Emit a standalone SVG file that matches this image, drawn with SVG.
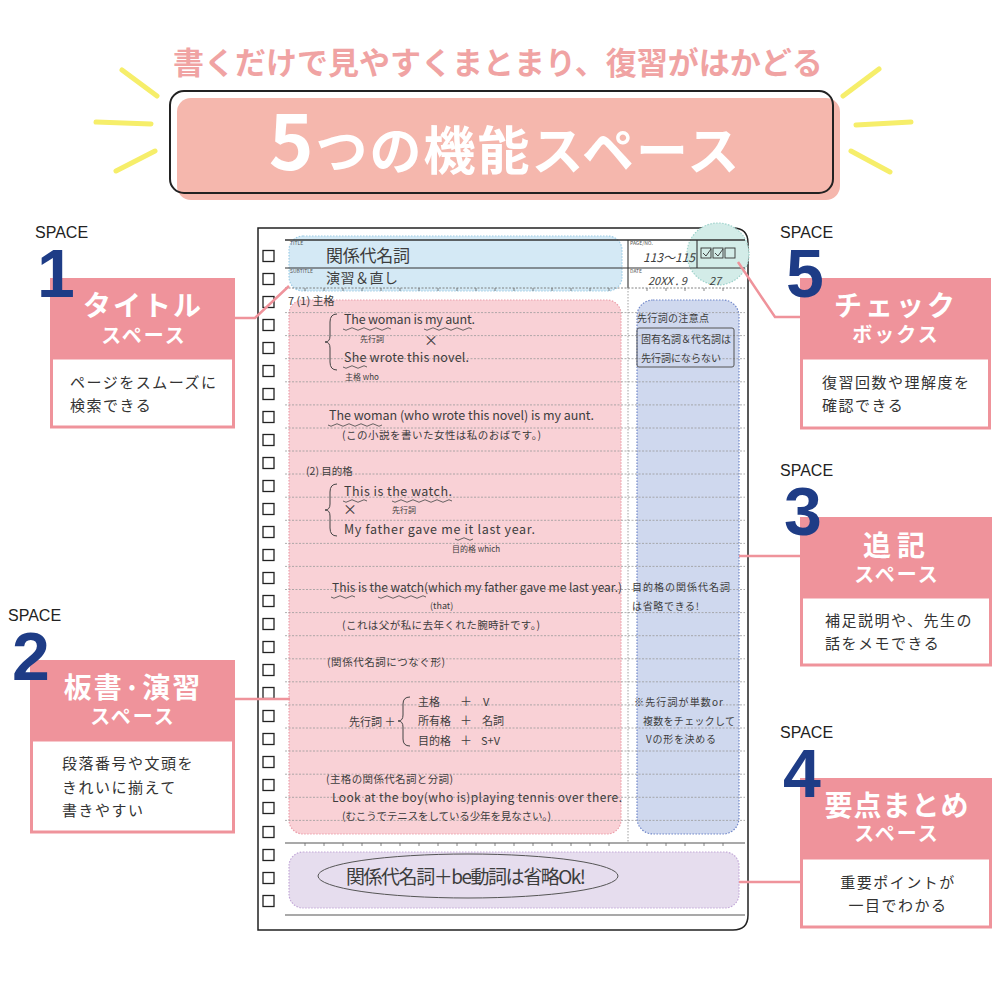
<svg xmlns="http://www.w3.org/2000/svg" width="1000" height="1000" viewBox="0 0 1000 1000">
<defs>
<style>
.jp{font-family:"Noto Sans CJK JP","Noto Sans",sans-serif}
.hw{font-family:"Noto Sans CJK JP","Noto Sans",sans-serif;fill:#3d3d3d}
.sp{font-family:"Liberation Sans",Arial,sans-serif;font-size:16px;fill:#222}
.num{font-family:"Liberation Sans",Arial,sans-serif;font-weight:bold;font-size:68px;fill:#1e3c86}
.hd{font-family:"Noto Sans CJK JP",sans-serif;font-weight:bold;fill:#fff;text-anchor:middle}
.desc{font-family:"Noto Sans CJK JP",sans-serif;font-size:15px;fill:#333;letter-spacing:1.5px}
.pk{fill:#ef939b}
.wb{fill:#fff;stroke:#ef939b;stroke-width:3}
.con{fill:none;stroke:#ef939b;stroke-width:2.5}
.ray{stroke:#f6ee6a;stroke-width:5;stroke-linecap:round}
.cb{fill:#fff;stroke:#222;stroke-width:1.3}
.rule{stroke:#9a9a9a;stroke-width:0.8;stroke-dasharray:2 1.5}
.wave{fill:none;stroke:#555;stroke-width:0.9}
.br{fill:none;stroke:#444;stroke-width:1}
</style>
</defs>
<rect width="1000" height="1000" fill="#fff"/>

<!-- Heading -->
<g id="heading">
<text x="498" y="74" class="jp" font-size="31" font-weight="bold" fill="#f0a3a3" text-anchor="middle">書くだけで見やすくまとまり、復習がはかどる</text>
<line class="ray" x1="122" y1="70" x2="157" y2="96"/>
<line class="ray" x1="96" y1="122" x2="151" y2="124"/>
<line class="ray" x1="116" y1="171" x2="155" y2="151"/>
<line class="ray" x1="843" y1="96" x2="879" y2="69"/>
<line class="ray" x1="856" y1="125" x2="911" y2="122"/>
<line class="ray" x1="851" y1="151" x2="890" y2="172"/>
<rect x="177" y="98" width="663" height="102" rx="14" fill="#f5b7ad"/>
<rect x="170" y="91" width="663" height="102" rx="14" fill="none" stroke="#222" stroke-width="2"/>
<text x="505" y="170" class="jp" font-weight="bold" fill="#fff" text-anchor="middle" letter-spacing="2"><tspan font-size="76">5</tspan><tspan font-size="52">つの機能スペース</tspan></text>
</g>

<!-- Notebook -->
<g id="notebook">
<path d="M258,228 H733 Q748,228 748,243 V915 Q748,930 733,930 H258 Z" fill="#fff" stroke="#222" stroke-width="1.5"/>
<!-- highlight areas -->
<rect x="289" y="236" width="333" height="55" rx="14" fill="#d4e9f5" stroke="#9fcde6" stroke-width="1.2" stroke-dasharray="1.5 1.5"/>
<circle cx="718" cy="254" r="31" fill="#d3ece8" stroke="#9fd3cc" stroke-width="1.2" stroke-dasharray="1.5 1.5"/>
<rect x="289" y="300" width="332" height="534" rx="14" fill="#f9d1d6" stroke="#ec9fab" stroke-width="1.2" stroke-dasharray="1.5 1.5"/>
<rect x="637" y="300" width="102" height="534" rx="16" fill="#cfd8ee" stroke="#6f86c9" stroke-width="1.2" stroke-dasharray="1.5 1.5"/>
<rect x="289" y="852" width="450" height="56" rx="14" fill="#e6ddee" stroke="#c3a9d8" stroke-width="1.2" stroke-dasharray="1.5 1.5"/>
<!-- header lines -->
<line x1="285" y1="240" x2="745" y2="240" stroke="#333" stroke-width="1.3"/>
<line x1="285" y1="268" x2="745" y2="268" stroke="#333" stroke-width="1.1"/>
<line x1="628" y1="240" x2="628" y2="288" stroke="#333" stroke-width="1.1"/>
<line x1="697" y1="240" x2="697" y2="268" stroke="#333" stroke-width="1.1"/>
<line x1="285" y1="288" x2="745" y2="288" stroke="#777" stroke-width="0.9" stroke-dasharray="2 1.5"/>
<line x1="628" y1="288" x2="628" y2="843" stroke="#888" stroke-width="0.8" stroke-dasharray="1.5 1.5"/>
<!-- ruled lines -->
<g id="rules">
<line class="rule" x1="285" y1="312.6" x2="745" y2="312.6"/>
<line class="rule" x1="285" y1="335.6" x2="745" y2="335.6"/>
<line class="rule" x1="285" y1="358.7" x2="745" y2="358.7"/>
<line class="rule" x1="285" y1="381.8" x2="745" y2="381.8"/>
<line class="rule" x1="285" y1="404.9" x2="745" y2="404.9"/>
<line class="rule" x1="285" y1="428" x2="745" y2="428"/>
<line class="rule" x1="285" y1="451" x2="745" y2="451"/>
<line class="rule" x1="285" y1="474" x2="745" y2="474"/>
<line class="rule" x1="285" y1="497.2" x2="745" y2="497.2"/>
<line class="rule" x1="285" y1="520.3" x2="745" y2="520.3"/>
<line class="rule" x1="285" y1="543.4" x2="745" y2="543.4"/>
<line class="rule" x1="285" y1="566.4" x2="745" y2="566.4"/>
<line class="rule" x1="285" y1="589.5" x2="745" y2="589.5"/>
<line class="rule" x1="285" y1="612.6" x2="745" y2="612.6"/>
<line class="rule" x1="285" y1="635.7" x2="745" y2="635.7"/>
<line class="rule" x1="285" y1="658.8" x2="745" y2="658.8"/>
<line class="rule" x1="285" y1="681.8" x2="745" y2="681.8"/>
<line class="rule" x1="285" y1="704.9" x2="745" y2="704.9"/>
<line class="rule" x1="285" y1="728" x2="745" y2="728"/>
<line class="rule" x1="285" y1="751" x2="745" y2="751"/>
<line class="rule" x1="285" y1="774.2" x2="745" y2="774.2"/>
<line class="rule" x1="285" y1="797.3" x2="745" y2="797.3"/>
<line class="rule" x1="285" y1="820.4" x2="745" y2="820.4"/>
</g>
<line x1="285" y1="843" x2="745" y2="843" stroke="#555" stroke-width="1.2"/>
<line x1="285" y1="915" x2="745" y2="915" stroke="#555" stroke-width="1.2"/>
<path d="M305,843v3M324,843v3M343,843v3M362,843v3M381,843v3M400,843v3M419,843v3M438,843v3M457,843v3M476,843v3M495,843v3M514,843v3M533,843v3M552,843v3M571,843v3M590,843v3M609,843v3M647,843v3M666,843v3M685,843v3M704,843v3M723,843v3M305,288v3M324,288v3M343,288v3M362,288v3M381,288v3M400,288v3M419,288v3M438,288v3M457,288v3M476,288v3M495,288v3M514,288v3M533,288v3M552,288v3M571,288v3M590,288v3M609,288v3M647,288v3M666,288v3M685,288v3M704,288v3M723,288v3" stroke="#666" stroke-width="0.8"/>
<!-- checkboxes -->
<g id="checkboxes">
<rect class="cb" x="263" y="250.5" width="11" height="11"/>
<rect class="cb" x="263" y="273.5" width="11" height="11"/>
<rect class="cb" x="263" y="296.5" width="11" height="11"/>
<rect class="cb" x="263" y="319.5" width="11" height="11"/>
<rect class="cb" x="263" y="342.5" width="11" height="11"/>
<rect class="cb" x="263" y="365.5" width="11" height="11"/>
<rect class="cb" x="263" y="388.5" width="11" height="11"/>
<rect class="cb" x="263" y="411.5" width="11" height="11"/>
<rect class="cb" x="263" y="434.5" width="11" height="11"/>
<rect class="cb" x="263" y="457.5" width="11" height="11"/>
<rect class="cb" x="263" y="480.5" width="11" height="11"/>
<rect class="cb" x="263" y="503.5" width="11" height="11"/>
<rect class="cb" x="263" y="526.5" width="11" height="11"/>
<rect class="cb" x="263" y="549.5" width="11" height="11"/>
<rect class="cb" x="263" y="572.5" width="11" height="11"/>
<rect class="cb" x="263" y="595.5" width="11" height="11"/>
<rect class="cb" x="263" y="618.5" width="11" height="11"/>
<rect class="cb" x="263" y="641.5" width="11" height="11"/>
<rect class="cb" x="263" y="664.5" width="11" height="11"/>
<rect class="cb" x="263" y="687.5" width="11" height="11"/>
<rect class="cb" x="263" y="710.5" width="11" height="11"/>
<rect class="cb" x="263" y="733.5" width="11" height="11"/>
<rect class="cb" x="263" y="756.5" width="11" height="11"/>
<rect class="cb" x="263" y="779.5" width="11" height="11"/>
<rect class="cb" x="263" y="802.5" width="11" height="11"/>
<rect class="cb" x="263" y="826.5" width="11" height="11"/>
<rect class="cb" x="263" y="849.5" width="11" height="11"/>
<rect class="cb" x="263" y="872.5" width="11" height="11"/>
<rect class="cb" x="263" y="895.5" width="11" height="11"/>
</g>
<!-- header texts -->
<text x="290" y="245" class="jp" font-size="5" fill="#555">TITLE</text>
<text x="290" y="273" class="jp" font-size="5" fill="#555">SUBTITLE</text>
<text x="630" y="245" class="jp" font-size="5" fill="#555">PAGE/NO.</text>
<text x="630" y="273" class="jp" font-size="5" fill="#555">DATE</text>
<text x="326" y="262" class="hw" font-size="17" textLength="84">関係代名詞</text>
<text x="326" y="283" class="hw" font-size="14" textLength="72">演習＆直し</text>
<text x="643" y="262" class="hw" font-size="12" font-style="italic">113～115</text>
<text x="648" y="285" class="hw" font-size="11" font-style="italic">20XX . 9</text>
<text x="709" y="285" class="hw" font-size="11" font-style="italic">27</text>
<rect x="701" y="248" width="10" height="10" fill="none" stroke="#333" stroke-width="0.9"/>
<rect x="713" y="248" width="10" height="10" fill="none" stroke="#333" stroke-width="0.9"/>
<rect x="725" y="248" width="10" height="10" fill="none" stroke="#333" stroke-width="0.9"/>
<path d="M703,253 l3,3 l5,-7 M715,253 l3,3 l5,-7" fill="none" stroke="#333" stroke-width="0.9"/>

<!-- body text -->
<text x="288" y="305" class="hw" font-size="11">7  (1) 主格</text>
<path class="br" d="M337,314 Q330,314 330,322 V336 Q330,342 325,342 Q330,342 330,348 V362 Q330,370 337,370"/>
<text x="344" y="324" class="hw" font-size="12.5" textLength="131">The woman is my aunt.</text>
<path class="wave" d="M343,329 q3,2.5 6,0 t6,0 t6,0 t6,0 t6,0 t6,0 t6,0 t6,0 M424,329 q3,2.5 6,0 t6,0 t6,0 t6,0 t6,0 t6,0 t6,0 t6,0"/>
<text x="360" y="342" class="hw" font-size="8">先行詞</text>
<text x="424" y="345" class="hw" font-size="14">×</text>
<text x="344" y="362" class="hw" font-size="12.5" textLength="125">She wrote this novel.</text>
<path class="wave" d="M343,367 q3,2.5 6,0 t6,0 t6,0 t6,0"/>
<text x="345" y="380" class="hw" font-size="8">主格 who</text>
<text x="329" y="420" class="hw" font-size="12.5" textLength="265">The woman (who wrote this novel) is my aunt.</text>
<path class="wave" d="M328,425 q3,2.5 6,0 t6,0 t6,0 t6,0 t6,0 t6,0 t6,0 t6,0 t6,0"/>
<text x="342" y="439" class="hw" font-size="10.5" textLength="199">(この小説を書いた女性は私のおばです。)</text>

<text x="306" y="475" class="hw" font-size="10.5">(2) 目的格</text>
<path class="br" d="M337,484 Q330,484 330,492 V504 Q330,510 325,510 Q330,510 330,516 V528 Q330,536 337,536"/>
<text x="344" y="496" class="hw" font-size="12.5" textLength="108">This is the watch.</text>
<path class="wave" d="M343,501 q3,2.5 6,0 t6,0 t6,0 t6,0 M392,501 q3,2.5 6,0 t6,0 t6,0 t6,0 t6,0 t6,0 t6,0 t6,0 t6,0 t6,0"/>
<text x="343" y="514" class="hw" font-size="14">×</text>
<text x="392" y="513" class="hw" font-size="8">先行詞</text>
<text x="344" y="534" class="hw" font-size="12.5" textLength="191">My father gave me it last year.</text>
<path class="wave" d="M455,539 q3,2.5 6,0 t6,0 t6,0"/>
<text x="452" y="552" class="hw" font-size="8">目的格 which</text>
<text x="332" y="592" class="hw" font-size="12" textLength="290">This is the watch(which my father gave me last year.)</text>
<path class="wave" d="M331,597 q3,2.5 6,0 t6,0 t6,0 t6,0 M378,597 q3,2.5 6,0 t6,0 t6,0 t6,0 t6,0 t6,0 t6,0 t6,0"/>
<text x="430" y="609" class="hw" font-size="9">(that)</text>
<text x="342" y="629" class="hw" font-size="10.5" textLength="198">(これは父が私に去年くれた腕時計です。)</text>

<text x="327" y="666" class="hw" font-size="10.5" textLength="118">(関係代名詞につなぐ形)</text>
<path class="br" d="M410,697 Q403,697 403,704 V715 Q403,721 398,721 Q403,721 403,727 V739 Q403,746 410,746"/>
<text x="349" y="726" class="hw" font-size="11">先行詞 ＋</text>
<text x="418" y="706" class="hw" font-size="11">主格</text>
<text x="460" y="706" class="hw" font-size="12">＋</text>
<text x="483" y="706" class="hw" font-size="11">V</text>
<text x="418" y="725" class="hw" font-size="11">所有格</text>
<text x="460" y="725" class="hw" font-size="12">＋</text>
<text x="482" y="725" class="hw" font-size="11">名詞</text>
<text x="418" y="745" class="hw" font-size="11">目的格</text>
<text x="460" y="745" class="hw" font-size="12">＋</text>
<text x="481" y="745" class="hw" font-size="11">S+V</text>

<text x="326" y="783" class="hw" font-size="10.5" textLength="127">(主格の関係代名詞と分詞)</text>
<text x="332" y="802" class="hw" font-size="12" textLength="290">Look at the boy(who is)playing tennis over there.</text>
<text x="342" y="820" class="hw" font-size="10.5" textLength="209">(むこうでテニスをしている少年を見なさい。)</text>

<!-- side column -->
<text x="637" y="322" class="hw" font-size="10" textLength="72">先行詞の注意点</text>
<rect x="637" y="328" width="97" height="39" rx="2" fill="none" stroke="#555" stroke-width="1"/>
<text x="641" y="343" class="hw" font-size="10" textLength="90">固有名詞＆代名詞は</text>
<text x="641" y="362" class="hw" font-size="10" textLength="80">先行詞にならない</text>
<text x="632" y="591" class="hw" font-size="10" textLength="98">目的格の関係代名詞</text>
<text x="632" y="610" class="hw" font-size="10" textLength="67">は省略できる!</text>
<text x="634" y="706" class="hw" font-size="10" textLength="89">※先行詞が単数or</text>
<text x="643" y="725" class="hw" font-size="10" textLength="92">複数をチェックして</text>
<text x="646" y="743" class="hw" font-size="10" textLength="70">Vの形を決める</text>

<!-- summary -->
<ellipse cx="468" cy="876" rx="150" ry="22" fill="none" stroke="#555" stroke-width="1"/>
<text x="346" y="884" class="hw" font-size="19" textLength="240">関係代名詞＋be動詞は省略Ok!</text>
</g>

<!-- connectors -->
<g id="connectors">
<polyline class="con" points="235,318 255,318 289,286"/>
<line class="con" x1="235" y1="699" x2="290" y2="699"/>
<polyline class="con" points="738,262 775,317 800,317"/>
<line class="con" x1="739" y1="556" x2="800" y2="556"/>
<line class="con" x1="739" y1="882" x2="800" y2="882"/>
</g>

<!-- callout 1 -->
<g id="space1">
<rect class="pk" x="50" y="278" width="185" height="80"/>
<rect class="wb" x="51.5" y="358" width="182" height="69"/>
<text x="35" y="238" class="sp">SPACE</text>
<text x="37" y="297" class="num">1</text>
<text x="143" y="316" class="hd" font-size="28" letter-spacing="2">タイトル</text>
<text x="144" y="343" class="hd" font-size="20" letter-spacing="2">スペース</text>
<text x="70" y="388" class="desc">ページをスムーズに</text>
<text x="70" y="411" class="desc">検索できる</text>
</g>

<!-- callout 2 -->
<g id="space2">
<rect class="pk" x="30" y="660" width="205" height="80"/>
<rect class="wb" x="31.5" y="740" width="202" height="92"/>
<text x="8" y="621" class="sp">SPACE</text>
<text x="12" y="680" class="num">2</text>
<text x="133" y="698" class="hd" font-size="28" letter-spacing="2">板書·演習</text>
<text x="133" y="724" class="hd" font-size="20" letter-spacing="2">スペース</text>
<text x="62" y="769" class="desc">段落番号や文頭を</text>
<text x="62" y="793" class="desc">きれいに揃えて</text>
<text x="62" y="816" class="desc">書きやすい</text>
</g>

<!-- callout 5 -->
<g id="space5">
<rect class="pk" x="800" y="278" width="191" height="80"/>
<rect class="wb" x="801.5" y="358" width="188" height="70"/>
<text x="780" y="238" class="sp">SPACE</text>
<text x="786" y="297" class="num">5</text>
<text x="896" y="316" class="hd" font-size="28" letter-spacing="3">チェック</text>
<text x="896" y="342" class="hd" font-size="20" letter-spacing="2">ボックス</text>
<text x="822" y="388" class="desc">復習回数や理解度を</text>
<text x="822" y="411" class="desc">確認できる</text>
</g>

<!-- callout 3 -->
<g id="space3">
<rect class="pk" x="800" y="517" width="192" height="80"/>
<rect class="wb" x="801.5" y="597" width="189" height="68"/>
<text x="780" y="476" class="sp">SPACE</text>
<text x="784" y="535" class="num">3</text>
<text x="897" y="556" class="hd" font-size="28" letter-spacing="6">追記</text>
<text x="897" y="582" class="hd" font-size="20" letter-spacing="2">スペース</text>
<text x="825" y="626" class="desc">補足説明や、先生の</text>
<text x="825" y="649" class="desc">話をメモできる</text>
</g>

<!-- callout 4 -->
<g id="space4">
<rect class="pk" x="800" y="778" width="192" height="80"/>
<rect class="wb" x="801.5" y="858" width="189" height="69"/>
<text x="780" y="738" class="sp">SPACE</text>
<text x="783" y="797" class="num">4</text>
<text x="897" y="816" class="hd" font-size="28" letter-spacing="1">要点まとめ</text>
<text x="897" y="841" class="hd" font-size="20" letter-spacing="2">スペース</text>
<text x="898" y="888" class="desc" text-anchor="middle">重要ポイントが</text>
<text x="898" y="911" class="desc" text-anchor="middle">一目でわかる</text>
</g>
</svg>
